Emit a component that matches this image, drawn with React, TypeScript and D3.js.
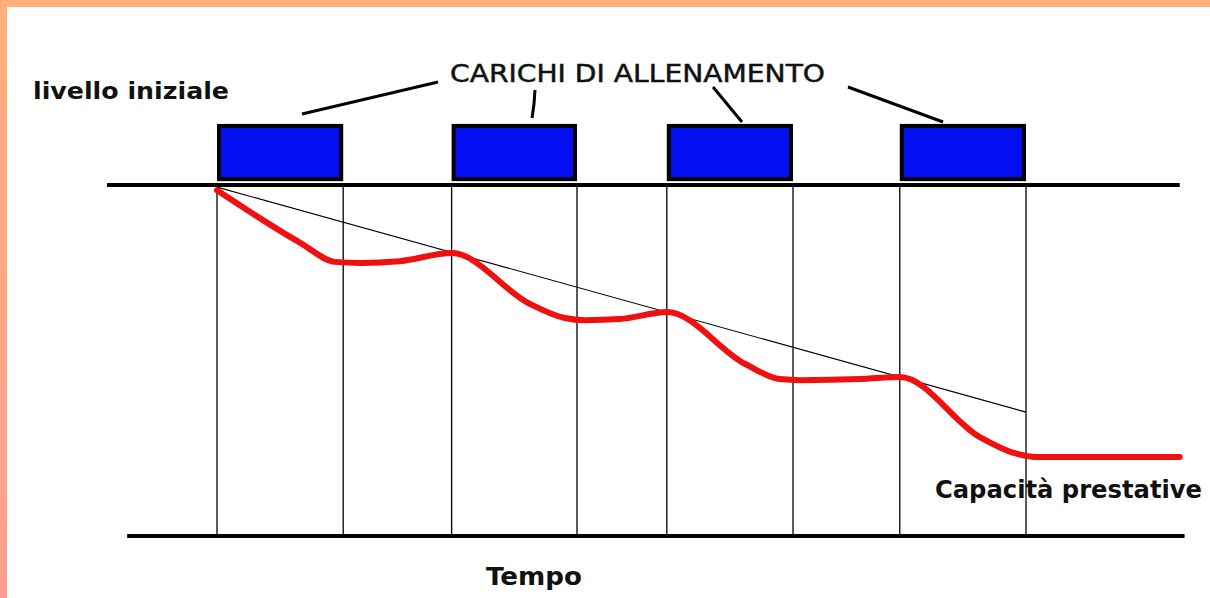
import React from "react";
import * as d3 from "d3";

// ---- data ----
const loadStart = [0, 29, 55.6, 84.4];
const loadEnd = [15.6, 44.5, 71.2, 100];

const curveTime = [0, 10.3, 14.6, 17.7, 22.6, 29,
  38.7, 43, 45.5, 49.8, 55.6,
  65.3, 69.6, 72.1, 79.5, 84.4,
  94.3, 98.6, 101.7, 119];
const curveLevel = [98.5, 83.5, 78.1, 77.8, 78.3, 80.6,
  66.1, 62.1, 61.5, 61.8, 63.8,
  49, 44.7, 44.4, 44.7, 45.3,
  28.2, 23.6, 22.5, 22.5];

const trendTime = [0, 100];
const trendLevel = [99.4, 35.3];

const topLineTime = [-13.6, 119];
const bottomLineTime = [-11.1, 119.6];

const labelTexts = ["livello iniziale", "CARICHI DI ALLENAMENTO", "Capacità prestative", "Tempo"];

// ---- layout ----
const W = 1210;
const H = 598;
const BOX_TOP = 117.4;
const BOX_BOTTOM = 101.1;

export default function App() {
  const x = d3.scaleLinear().domain([0, 100]).range([217, 1026]);
  const y = d3.scaleLinear().domain([0, 100]).range([536, 185]);

  const curvePts: [number, number][] = curveTime.map((t, i) => [t, curveLevel[i]]);
  const line = d3
    .line<[number, number]>()
    .x((d) => x(d[0]))
    .y((d) => y(d[1]))
    .curve(d3.curveMonotoneX);

  const leaders: [number, number][][] = [
    [[302, 114], [438, 82]],
    [[535, 90], [534, 104], [532, 118]],
    [[713, 87], [742, 122]],
    [[848, 87], [943, 122]],
  ];

  const font = "'DejaVu Sans', 'Liberation Sans', Arial, sans-serif";

  return (
    <svg
      width={W}
      height={H}
      style={{ position: "absolute", left: 0, top: 0, display: "block" }}
    >
      <defs>
        <linearGradient id="leftBand" x1="0" y1="0" x2="0" y2="1">
          <stop offset="0" stopColor="#FFB07A" />
          <stop offset="1" stopColor="#FF9E90" />
        </linearGradient>
      </defs>
      <rect x={0} y={0} width={W} height={H} fill="#ffffff" />
      <rect x={0} y={0} width={W} height={7} fill="#FFB07A" />
      <rect x={0} y={0} width={7} height={H} fill="url(#leftBand)" />

      {/* vertical phase lines */}
      {[...loadStart, ...loadEnd].map((t, i) => (
        <line
          key={"v" + i}
          x1={x(t)}
          x2={x(t)}
          y1={y(100)}
          y2={y(0)}
          stroke="#000"
          strokeWidth={1.3}
        />
      ))}

      {/* baselines */}
      <line
        x1={x(topLineTime[0])}
        x2={x(topLineTime[1])}
        y1={y(100)}
        y2={y(100)}
        stroke="#000"
        strokeWidth={4}
      />
      <line
        x1={x(bottomLineTime[0])}
        x2={x(bottomLineTime[1])}
        y1={y(0)}
        y2={y(0)}
        stroke="#000"
        strokeWidth={4}
      />

      {/* load boxes */}
      {loadStart.map((s, i) => (
        <rect
          key={"b" + i}
          x={x(s) + 2}
          y={y(BOX_TOP) + 2}
          width={x(loadEnd[i]) - x(s) - 4}
          height={y(BOX_BOTTOM) - y(BOX_TOP) - 4}
          fill="#0510F2"
          stroke="#000"
          strokeWidth={4}
        />
      ))}

      {/* trend line */}
      <line
        x1={x(trendTime[0])}
        y1={y(trendLevel[0])}
        x2={x(trendTime[1])}
        y2={y(trendLevel[1])}
        stroke="#000"
        strokeWidth={1.1}
      />

      {/* performance curve */}
      <path
        d={line(curvePts) || ""}
        fill="none"
        stroke="#F01010"
        strokeWidth={6}
        strokeLinejoin="round"
        strokeLinecap="round"
      />

      {/* leader lines */}
      {leaders.map((pts, i) => (
        <polyline
          key={"l" + i}
          points={pts.map((p) => p.join(",")).join(" ")}
          fill="none"
          stroke="#000"
          strokeWidth={3}
        />
      ))}

      {/* labels */}
      <text x={33} y={99} fontFamily={font} fontWeight="bold" fontSize={23}
        textLength={196} lengthAdjust="spacingAndGlyphs" fill="#111">
        {labelTexts[0]}
      </text>
      <text x={450} y={82} fontFamily={font} fontSize={25}
        textLength={375} lengthAdjust="spacingAndGlyphs" fill="#111"
        stroke="#111" strokeWidth={0.5}>
        {labelTexts[1]}
      </text>
      <text x={935} y={498} fontFamily={font} fontWeight="bold" fontSize={24}
        textLength={267} lengthAdjust="spacingAndGlyphs" fill="#111">
        {labelTexts[2]}
      </text>
      <text x={486} y={585} fontFamily={font} fontWeight="bold" fontSize={24}
        textLength={96} lengthAdjust="spacingAndGlyphs" fill="#111">
        {labelTexts[3]}
      </text>
    </svg>
  );
}
